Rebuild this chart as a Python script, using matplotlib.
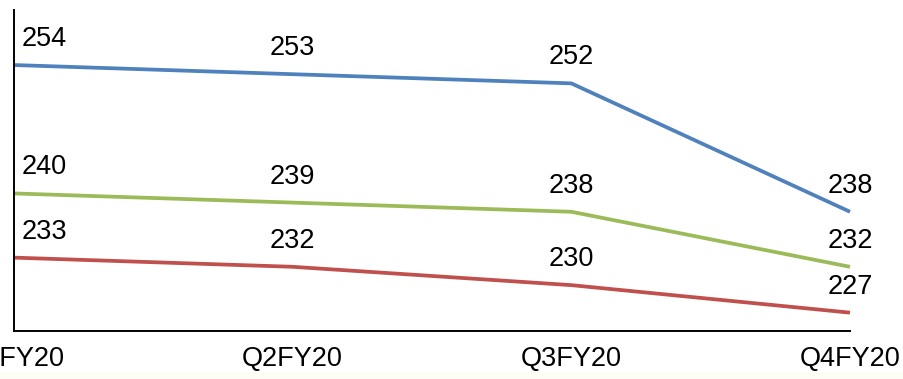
import matplotlib.pyplot as plt
from matplotlib.patches import Rectangle

plt.rcParams["font.family"] = ["Liberation Sans", "DejaVu Sans"]

quarters = ["Q1FY20", "Q2FY20", "Q3FY20", "Q4FY20"]
series_top = [254, 253, 252, 238]
series_mid = [240, 239, 238, 232]
series_low = [233, 232, 230, 227]

colors = ["#4F81BD", "#9BBB59", "#C0504D"]

fig = plt.figure(figsize=(9.04, 3.79), dpi=100)
fig.patches.append(
    Rectangle((0, 0), 1, 7 / 379, transform=fig.transFigure,
              facecolor="#fdfdf3", edgecolor="none", zorder=-1)
)
ax = fig.add_axes([14 / 904, 48 / 379, 836 / 904, 321 / 379])

x = list(range(len(quarters)))
for values, color in zip([series_top, series_mid, series_low], colors):
    ax.plot(x, values, color=color, linewidth=2.7, solid_capstyle="butt",
            clip_on=False)
    for i, v in enumerate(values):
        dx = 30 if i == 0 else 0
        ax.annotate(str(v), (i, v), xytext=(dx, 26), textcoords="offset pixels",
                    ha="center", va="center", fontsize=19.5)

ax.set_xlim(0, 3)
ax.set_ylim(225, 260)
ax.set_xticks(x)
ax.set_xticklabels(quarters, fontsize=19.5)
ax.tick_params(axis="x", length=0, pad=11)
ax.set_yticks([])

for side in ["top", "right"]:
    ax.spines[side].set_visible(False)
for side in ["left", "bottom"]:
    ax.spines[side].set_linewidth(1.4)
    ax.spines[side].set_color("black")

fig.savefig("out.png", dpi=100)
plt.close(fig)
